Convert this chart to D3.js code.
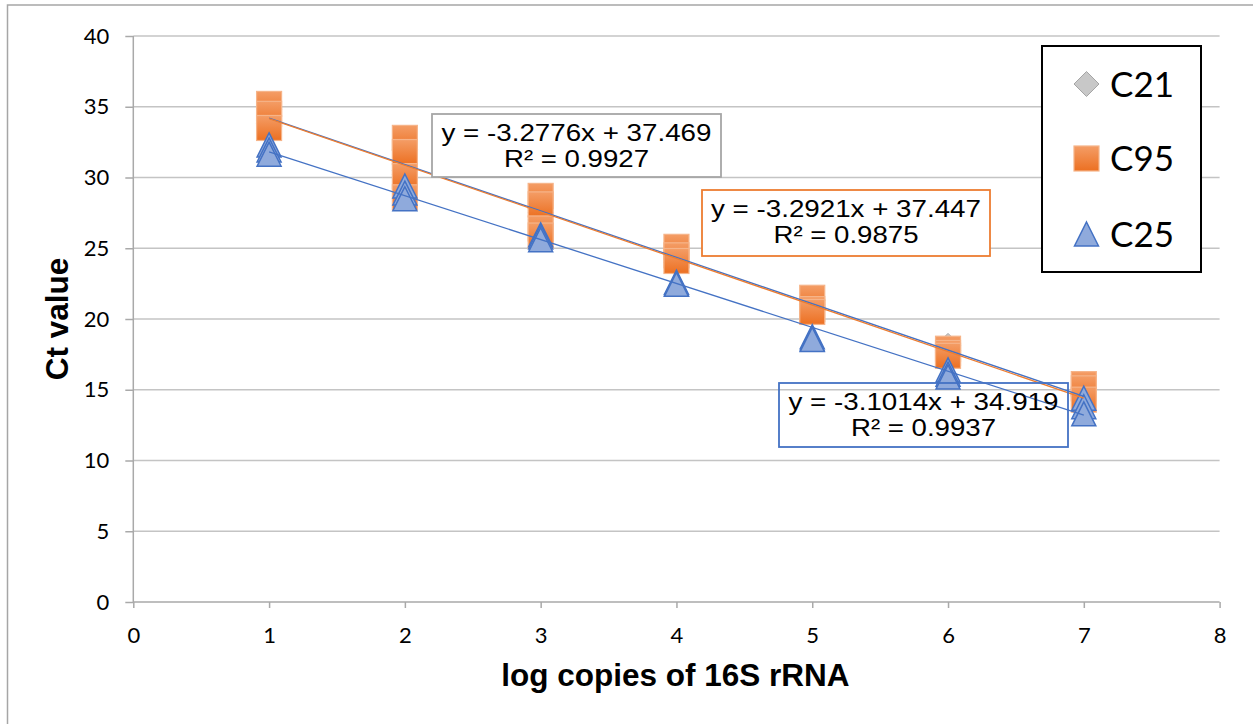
<!DOCTYPE html>
<html>
<head>
<meta charset="utf-8">
<script src="https://cdn.jsdelivr.net/npm/d3@7"></script>
<style>
  html, body { margin: 0; padding: 0; background: #fff; }
  svg { display: block; }
</style>
</head>
<body>
<svg id="chart" width="1253" height="724"></svg>
<script>
// ---------- data ----------
const xValues = [1, 2, 3, 4, 5, 6, 7];
const xTicks = [0, 1, 2, 3, 4, 5, 6, 7, 8];
const yTicks = [0, 5, 10, 15, 20, 25, 30, 35, 40];
const seriesNames = ["C21", "C95", "C25"];
// replicate Ct values per x (C21 markers sit underneath the C95 squares)
const c21Values = [[34.8, 34.0, 33.8], [32.0, 30.5, 30.2], [28.4, 27.5, 27.0], [24.9, 24.3, 24.0], [21.3, 21.0, 20.9], [18.1, 17.8, 17.6], [15.1, 14.8, 14.6]];
const c95Values = [[35.2, 34.5, 33.5], [32.8, 31.8, 30.1, 28.6], [28.7, 28.1, 26.4, 25.9], [25.1, 24.5, 24.1], [21.5, 20.7, 20.5], [17.9, 17.6, 17.4], [15.4, 15.1, 14.3]];
const c25Values = [[32.3, 31.95, 31.65], [29.4, 28.9, 28.5], [25.95, 25.8, 25.6], [22.6, 22.5, 22.45], [18.75, 18.6, 18.55], [16.4, 16.1, 15.9], [14.4, 13.8, 13.3]];
const slopes = [-3.2776, -3.2921, -3.1014];
const intercepts = [37.469, 37.447, 34.919];
const rSquared = ["0.9927", "0.9875", "0.9937"];
const xTitle = "log copies of 16S rRNA";
const yTitle = "Ct value";

// ---------- layout ----------
const svg = d3.select("#chart");
const x = d3.scaleLinear().domain([0, 8]).range([133.3, 1219.6]);
const y = d3.scaleLinear().domain([0, 40]).range([602, 36]);
const gridColor = "#c4c4c4";
const axisColor = "#a9a9a9";
const tickFont = "Lato, 'Open Sans', sans-serif";
const textFont = "'Liberation Sans', Arial, sans-serif";

// outer frame
svg.append("rect").attr("x", 7.5).attr("y", 5).attr("width", 1400).attr("height", 900)
  .attr("fill", "none").attr("stroke", "#a6a6a6").attr("stroke-width", 1.5);

const defs = svg.append("defs");
const grad = defs.append("linearGradient").attr("id", "orangeGrad")
  .attr("x1", 0).attr("y1", 0).attr("x2", 0).attr("y2", 1);
grad.append("stop").attr("offset", "0%").attr("stop-color", "#F49D66");
grad.append("stop").attr("offset", "100%").attr("stop-color", "#EC7022");

// gridlines
svg.append("g").selectAll("line").data(yTicks.filter(d => d > 0)).join("line")
  .attr("x1", x(0)).attr("x2", x(8)).attr("y1", d => y(d)).attr("y2", d => y(d))
  .attr("stroke", gridColor).attr("stroke-width", 1.3);

// axes
const yAxis = d3.axisLeft(y).tickValues(yTicks).tickSize(7).tickPadding(17);
const gy = svg.append("g").attr("transform", `translate(${x(0)},0)`).call(yAxis);
const xAxis = d3.axisBottom(x).tickValues(xTicks).tickSize(6).tickPadding(19);
const gx = svg.append("g").attr("transform", `translate(0,${y(0)})`).call(xAxis);
[gx, gy].forEach(g => {
  g.select(".domain").attr("stroke", axisColor).attr("stroke-width", 1.5);
  g.selectAll(".tick line").attr("stroke", axisColor).attr("stroke-width", 1.5);
  g.selectAll(".tick text").attr("font-family", tickFont).attr("font-size", 22).attr("fill", "#000");
});
gy.select(".domain").attr("d", `M0,${y(0)}V${y(40)}`);
gy.selectAll(".tick line").attr("x2", -8);
gx.select(".domain").attr("d", `M${x(0)},0H${x(8)}`);

// axis titles
svg.append("text").attr("x", (x(0) + x(8)) / 2 - 1).attr("y", 686)
  .attr("text-anchor", "middle").attr("font-family", textFont).attr("font-weight", "bold")
  .attr("font-size", 31.5).attr("fill", "#000").text(xTitle);
svg.append("text").attr("transform", `translate(68,${(y(0) + y(40)) / 2})rotate(-90)`)
  .attr("text-anchor", "middle").attr("font-family", textFont).attr("font-weight", "bold")
  .attr("font-size", 31.5).attr("fill", "#000").text(yTitle);

// flatten helper
function points(vals) {
  const out = [];
  vals.forEach((reps, i) => reps.forEach(v => out.push({ x: xValues[i], v })));
  return out;
}

const markers = svg.append("g");
// C21 diamonds
const dS = 12.5;
markers.append("g").selectAll("path").data(points(c21Values)).join("path")
  .attr("d", d => `M${x(d.x)},${y(d.v) - dS}L${x(d.x) + dS},${y(d.v)}L${x(d.x)},${y(d.v) + dS}L${x(d.x) - dS},${y(d.v)}Z`)
  .attr("fill", "#c8c8c8").attr("stroke", "#a5a5a5").attr("stroke-width", 1);
// C95 squares
const sq = 25;
markers.append("g").selectAll("rect").data(points(c95Values)).join("rect")
  .attr("x", d => x(d.x) - sq / 2).attr("y", d => y(d.v) - sq / 2)
  .attr("width", sq).attr("height", sq)
  .attr("fill", "url(#orangeGrad)").attr("stroke", "#F6B489").attr("stroke-width", 1.2);
// C25 triangles
const tr = 12;
markers.append("g").selectAll("path").data(points(c25Values)).join("path")
  .attr("d", d => `M${x(d.x)},${y(d.v) - tr}L${x(d.x) + tr},${y(d.v) + tr}L${x(d.x) - tr},${y(d.v) + tr}Z`)
  .attr("fill", "#8FAADC").attr("stroke", "#4472C4").attr("stroke-width", 1.5).attr("stroke-linejoin", "miter");

// trendlines
const trendColors = ["#4472C4", "#ED7D31", "#4472C4"];
const line = d3.line().x(d => x(d[0])).y(d => y(d[1]));
slopes.forEach((m, i) => {
  const xs = [d3.min(xValues), d3.max(xValues)];
  svg.append("path").datum(xs.map(v => [v, intercepts[i] + m * v]))
    .attr("d", line).attr("fill", "none")
    .attr("stroke", trendColors[i]).attr("stroke-width", 1.3);
});

// equation labels
const labelBoxes = [
  { left: 432, top: 114, w: 289, h: 63, stroke: "#a6a6a6", fill: "#fff" },
  { left: 702, top: 190, w: 288, h: 66, stroke: "#ED7D31", fill: "#fff" },
  { left: 779, top: 383, w: 289, h: 64, stroke: "#4472C4", fill: "none" }
];
labelBoxes.forEach((b, i) => {
  const g = svg.append("g");
  g.append("rect").attr("x", b.left).attr("y", b.top).attr("width", b.w).attr("height", b.h)
    .attr("fill", b.fill).attr("stroke", b.stroke).attr("stroke-width", 1.8);
  const eq = `y = ${slopes[i]}x + ${intercepts[i]}`;
  g.append("text").attr("x", b.left + b.w / 2).attr("y", b.top + 27).attr("text-anchor", "middle")
    .attr("font-family", textFont).attr("font-size", 24).attr("fill", "#000")
    .attr("textLength", 270).attr("lengthAdjust", "spacingAndGlyphs").text(eq);
  g.append("text").attr("x", b.left + b.w / 2).attr("y", b.top + 53).attr("text-anchor", "middle")
    .attr("font-family", textFont).attr("font-size", 24).attr("fill", "#000")
    .attr("textLength", 145).attr("lengthAdjust", "spacingAndGlyphs").text(`R² = ${rSquared[i]}`);
});

// legend
const lg = svg.append("g");
lg.append("rect").attr("x", 1042).attr("y", 46).attr("width", 159).attr("height", 226)
  .attr("fill", "#fff").attr("stroke", "#000").attr("stroke-width", 2);
const legendY = [84, 158.5, 234];
const mx = 1086.5;
lg.append("path").attr("d", `M${mx},${legendY[0] - 12.5}L${mx + 12.5},${legendY[0]}L${mx},${legendY[0] + 12.5}L${mx - 12.5},${legendY[0]}Z`)
  .attr("fill", "#c8c8c8").attr("stroke", "#a5a5a5");
lg.append("rect").attr("x", mx - 12.5).attr("y", legendY[1] - 12.5).attr("width", 25).attr("height", 25)
  .attr("fill", "url(#orangeGrad)").attr("stroke", "#F6B489").attr("stroke-width", 1.2);
lg.append("path").attr("d", `M${mx},${legendY[2] - 12}L${mx + 12},${legendY[2] + 12}L${mx - 12},${legendY[2] + 12}Z`)
  .attr("fill", "#8FAADC").attr("stroke", "#4472C4").attr("stroke-width", 1.5);
lg.selectAll("text.leg").data(seriesNames).join("text").attr("class", "leg")
  .attr("x", 1110).attr("y", (d, i) => legendY[i] + 12.5)
  .attr("font-family", tickFont).attr("font-size", 35).attr("fill", "#000").text(d => d);
</script>
</body>
</html>
